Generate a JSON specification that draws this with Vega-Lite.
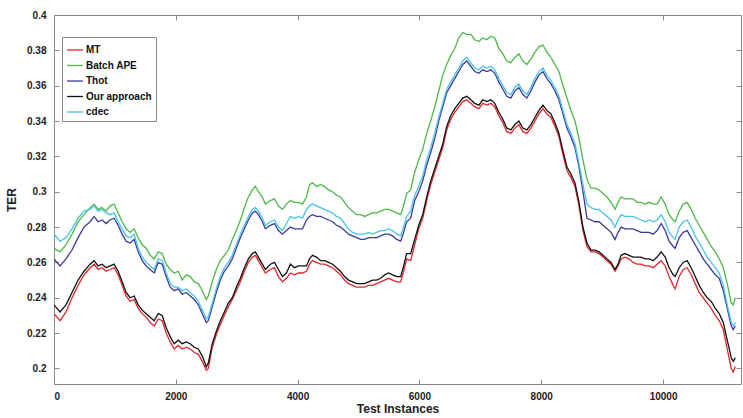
{
  "$schema": "https://vega.github.io/schema/vega-lite/v6.json",
  "width": 687,
  "height": 369,
  "autosize": "none",
  "padding": {"left": 54, "top": 15, "right": 2, "bottom": 34},
  "background": "white",
  "config": {
    "view": {"stroke": "#8a8a8a", "strokeWidth": 1},
    "font": "Liberation Sans",
    "axis": {"labelFont": "Liberation Sans", "titleFont": "Liberation Sans", "labelFontWeight": "bold", "titleFontWeight": "bold", "labelColor": "#222", "titleColor": "#222", "domain": false, "grid": false, "tickColor": "#8a8a8a"}
  },
  "data": {
    "values": [
      {"x": 0, "MT": 0.231, "Batch APE": 0.268, "Thot": 0.262, "Our approach": 0.236, "cdec": 0.276},
      {"x": 99, "MT": 0.227, "Batch APE": 0.266, "Thot": 0.258, "Our approach": 0.232, "cdec": 0.272},
      {"x": 197, "MT": 0.232, "Batch APE": 0.270, "Thot": 0.262, "Our approach": 0.236, "cdec": 0.274},
      {"x": 296, "MT": 0.240, "Batch APE": 0.276, "Thot": 0.267, "Our approach": 0.243, "cdec": 0.279},
      {"x": 395, "MT": 0.247, "Batch APE": 0.283, "Thot": 0.274, "Our approach": 0.250, "cdec": 0.285},
      {"x": 493, "MT": 0.253, "Batch APE": 0.287, "Thot": 0.280, "Our approach": 0.255, "cdec": 0.289},
      {"x": 592, "MT": 0.257, "Batch APE": 0.291, "Thot": 0.283, "Our approach": 0.259, "cdec": 0.290},
      {"x": 658, "MT": 0.259, "Batch APE": 0.293, "Thot": 0.286, "Our approach": 0.261, "cdec": 0.292},
      {"x": 724, "MT": 0.256, "Batch APE": 0.290, "Thot": 0.283, "Our approach": 0.258, "cdec": 0.289},
      {"x": 790, "MT": 0.257, "Batch APE": 0.291, "Thot": 0.284, "Our approach": 0.259, "cdec": 0.290},
      {"x": 855, "MT": 0.255, "Batch APE": 0.289, "Thot": 0.282, "Our approach": 0.257, "cdec": 0.288},
      {"x": 921, "MT": 0.256, "Batch APE": 0.292, "Thot": 0.284, "Our approach": 0.258, "cdec": 0.287},
      {"x": 987, "MT": 0.257, "Batch APE": 0.293, "Thot": 0.285, "Our approach": 0.259, "cdec": 0.288},
      {"x": 1053, "MT": 0.253, "Batch APE": 0.288, "Thot": 0.281, "Our approach": 0.255, "cdec": 0.283},
      {"x": 1119, "MT": 0.247, "Batch APE": 0.283, "Thot": 0.276, "Our approach": 0.249, "cdec": 0.279},
      {"x": 1184, "MT": 0.241, "Batch APE": 0.279, "Thot": 0.272, "Our approach": 0.243, "cdec": 0.275},
      {"x": 1250, "MT": 0.238, "Batch APE": 0.277, "Thot": 0.271, "Our approach": 0.240, "cdec": 0.274},
      {"x": 1316, "MT": 0.239, "Batch APE": 0.279, "Thot": 0.273, "Our approach": 0.241, "cdec": 0.276},
      {"x": 1382, "MT": 0.234, "Batch APE": 0.274, "Thot": 0.266, "Our approach": 0.236, "cdec": 0.268},
      {"x": 1448, "MT": 0.231, "Batch APE": 0.270, "Thot": 0.261, "Our approach": 0.233, "cdec": 0.263},
      {"x": 1513, "MT": 0.229, "Batch APE": 0.268, "Thot": 0.258, "Our approach": 0.231, "cdec": 0.260},
      {"x": 1579, "MT": 0.226, "Batch APE": 0.264, "Thot": 0.256, "Our approach": 0.229, "cdec": 0.258},
      {"x": 1645, "MT": 0.224, "Batch APE": 0.262, "Thot": 0.254, "Our approach": 0.227, "cdec": 0.256},
      {"x": 1711, "MT": 0.228, "Batch APE": 0.266, "Thot": 0.260, "Our approach": 0.231, "cdec": 0.262},
      {"x": 1777, "MT": 0.227, "Batch APE": 0.265, "Thot": 0.259, "Our approach": 0.230, "cdec": 0.261},
      {"x": 1842, "MT": 0.220, "Batch APE": 0.259, "Thot": 0.252, "Our approach": 0.223, "cdec": 0.254},
      {"x": 1908, "MT": 0.215, "Batch APE": 0.256, "Thot": 0.246, "Our approach": 0.218, "cdec": 0.248},
      {"x": 1974, "MT": 0.211, "Batch APE": 0.254, "Thot": 0.244, "Our approach": 0.214, "cdec": 0.246},
      {"x": 2040, "MT": 0.213, "Batch APE": 0.255, "Thot": 0.245, "Our approach": 0.216, "cdec": 0.246},
      {"x": 2105, "MT": 0.211, "Batch APE": 0.250, "Thot": 0.242, "Our approach": 0.214, "cdec": 0.244},
      {"x": 2171, "MT": 0.212, "Batch APE": 0.253, "Thot": 0.243, "Our approach": 0.215, "cdec": 0.245},
      {"x": 2237, "MT": 0.211, "Batch APE": 0.252, "Thot": 0.241, "Our approach": 0.214, "cdec": 0.243},
      {"x": 2303, "MT": 0.209, "Batch APE": 0.249, "Thot": 0.239, "Our approach": 0.212, "cdec": 0.241},
      {"x": 2369, "MT": 0.208, "Batch APE": 0.248, "Thot": 0.236, "Our approach": 0.211, "cdec": 0.238},
      {"x": 2435, "MT": 0.204, "Batch APE": 0.244, "Thot": 0.231, "Our approach": 0.207, "cdec": 0.233},
      {"x": 2500, "MT": 0.199, "Batch APE": 0.239, "Thot": 0.226, "Our approach": 0.201, "cdec": 0.228},
      {"x": 2533, "MT": 0.200, "Batch APE": 0.241, "Thot": 0.227, "Our approach": 0.203, "cdec": 0.229},
      {"x": 2599, "MT": 0.212, "Batch APE": 0.249, "Thot": 0.235, "Our approach": 0.214, "cdec": 0.237},
      {"x": 2665, "MT": 0.219, "Batch APE": 0.256, "Thot": 0.243, "Our approach": 0.221, "cdec": 0.245},
      {"x": 2731, "MT": 0.225, "Batch APE": 0.261, "Thot": 0.250, "Our approach": 0.227, "cdec": 0.252},
      {"x": 2797, "MT": 0.230, "Batch APE": 0.264, "Thot": 0.255, "Our approach": 0.232, "cdec": 0.257},
      {"x": 2862, "MT": 0.235, "Batch APE": 0.267, "Thot": 0.258, "Our approach": 0.237, "cdec": 0.260},
      {"x": 2928, "MT": 0.239, "Batch APE": 0.273, "Thot": 0.262, "Our approach": 0.240, "cdec": 0.264},
      {"x": 2994, "MT": 0.244, "Batch APE": 0.278, "Thot": 0.268, "Our approach": 0.246, "cdec": 0.270},
      {"x": 3060, "MT": 0.249, "Batch APE": 0.284, "Thot": 0.274, "Our approach": 0.251, "cdec": 0.276},
      {"x": 3126, "MT": 0.255, "Batch APE": 0.291, "Thot": 0.279, "Our approach": 0.257, "cdec": 0.281},
      {"x": 3191, "MT": 0.260, "Batch APE": 0.297, "Thot": 0.284, "Our approach": 0.262, "cdec": 0.286},
      {"x": 3257, "MT": 0.263, "Batch APE": 0.301, "Thot": 0.288, "Our approach": 0.265, "cdec": 0.290},
      {"x": 3306, "MT": 0.264, "Batch APE": 0.303, "Thot": 0.289, "Our approach": 0.266, "cdec": 0.291},
      {"x": 3356, "MT": 0.261, "Batch APE": 0.300, "Thot": 0.287, "Our approach": 0.263, "cdec": 0.289},
      {"x": 3421, "MT": 0.257, "Batch APE": 0.297, "Thot": 0.283, "Our approach": 0.259, "cdec": 0.285},
      {"x": 3471, "MT": 0.254, "Batch APE": 0.293, "Thot": 0.279, "Our approach": 0.256, "cdec": 0.281},
      {"x": 3553, "MT": 0.256, "Batch APE": 0.295, "Thot": 0.281, "Our approach": 0.259, "cdec": 0.283},
      {"x": 3619, "MT": 0.257, "Batch APE": 0.296, "Thot": 0.282, "Our approach": 0.260, "cdec": 0.284},
      {"x": 3685, "MT": 0.252, "Batch APE": 0.292, "Thot": 0.278, "Our approach": 0.256, "cdec": 0.280},
      {"x": 3751, "MT": 0.249, "Batch APE": 0.290, "Thot": 0.276, "Our approach": 0.252, "cdec": 0.278},
      {"x": 3816, "MT": 0.251, "Batch APE": 0.293, "Thot": 0.278, "Our approach": 0.254, "cdec": 0.282},
      {"x": 3882, "MT": 0.254, "Batch APE": 0.295, "Thot": 0.280, "Our approach": 0.259, "cdec": 0.286},
      {"x": 3948, "MT": 0.253, "Batch APE": 0.294, "Thot": 0.279, "Our approach": 0.257, "cdec": 0.285},
      {"x": 4014, "MT": 0.254, "Batch APE": 0.294, "Thot": 0.279, "Our approach": 0.258, "cdec": 0.286},
      {"x": 4080, "MT": 0.254, "Batch APE": 0.293, "Thot": 0.279, "Our approach": 0.258, "cdec": 0.285},
      {"x": 4145, "MT": 0.255, "Batch APE": 0.297, "Thot": 0.284, "Our approach": 0.258, "cdec": 0.290},
      {"x": 4195, "MT": 0.259, "Batch APE": 0.304, "Thot": 0.286, "Our approach": 0.262, "cdec": 0.292},
      {"x": 4244, "MT": 0.261, "Batch APE": 0.305, "Thot": 0.287, "Our approach": 0.264, "cdec": 0.293},
      {"x": 4310, "MT": 0.260, "Batch APE": 0.303, "Thot": 0.286, "Our approach": 0.263, "cdec": 0.292},
      {"x": 4376, "MT": 0.259, "Batch APE": 0.304, "Thot": 0.286, "Our approach": 0.261, "cdec": 0.291},
      {"x": 4442, "MT": 0.259, "Batch APE": 0.303, "Thot": 0.285, "Our approach": 0.261, "cdec": 0.290},
      {"x": 4507, "MT": 0.258, "Batch APE": 0.301, "Thot": 0.284, "Our approach": 0.260, "cdec": 0.289},
      {"x": 4573, "MT": 0.257, "Batch APE": 0.300, "Thot": 0.283, "Our approach": 0.259, "cdec": 0.288},
      {"x": 4639, "MT": 0.255, "Batch APE": 0.298, "Thot": 0.281, "Our approach": 0.257, "cdec": 0.286},
      {"x": 4705, "MT": 0.253, "Batch APE": 0.297, "Thot": 0.280, "Our approach": 0.255, "cdec": 0.285},
      {"x": 4771, "MT": 0.250, "Batch APE": 0.294, "Thot": 0.278, "Our approach": 0.252, "cdec": 0.282},
      {"x": 4836, "MT": 0.248, "Batch APE": 0.291, "Thot": 0.276, "Our approach": 0.250, "cdec": 0.279},
      {"x": 4902, "MT": 0.247, "Batch APE": 0.289, "Thot": 0.275, "Our approach": 0.249, "cdec": 0.277},
      {"x": 4968, "MT": 0.246, "Batch APE": 0.287, "Thot": 0.274, "Our approach": 0.248, "cdec": 0.276},
      {"x": 5034, "MT": 0.246, "Batch APE": 0.287, "Thot": 0.273, "Our approach": 0.248, "cdec": 0.276},
      {"x": 5100, "MT": 0.246, "Batch APE": 0.286, "Thot": 0.273, "Our approach": 0.248, "cdec": 0.276},
      {"x": 5165, "MT": 0.247, "Batch APE": 0.287, "Thot": 0.274, "Our approach": 0.249, "cdec": 0.277},
      {"x": 5231, "MT": 0.247, "Batch APE": 0.288, "Thot": 0.274, "Our approach": 0.250, "cdec": 0.276},
      {"x": 5297, "MT": 0.248, "Batch APE": 0.288, "Thot": 0.274, "Our approach": 0.250, "cdec": 0.277},
      {"x": 5363, "MT": 0.249, "Batch APE": 0.289, "Thot": 0.275, "Our approach": 0.251, "cdec": 0.278},
      {"x": 5429, "MT": 0.250, "Batch APE": 0.290, "Thot": 0.276, "Our approach": 0.253, "cdec": 0.278},
      {"x": 5494, "MT": 0.251, "Batch APE": 0.290, "Thot": 0.276, "Our approach": 0.254, "cdec": 0.279},
      {"x": 5560, "MT": 0.250, "Batch APE": 0.289, "Thot": 0.275, "Our approach": 0.253, "cdec": 0.278},
      {"x": 5626, "MT": 0.249, "Batch APE": 0.288, "Thot": 0.273, "Our approach": 0.252, "cdec": 0.276},
      {"x": 5692, "MT": 0.249, "Batch APE": 0.287, "Thot": 0.272, "Our approach": 0.252, "cdec": 0.275},
      {"x": 5741, "MT": 0.255, "Batch APE": 0.292, "Thot": 0.277, "Our approach": 0.258, "cdec": 0.280},
      {"x": 5790, "MT": 0.262, "Batch APE": 0.299, "Thot": 0.283, "Our approach": 0.265, "cdec": 0.286},
      {"x": 5856, "MT": 0.261, "Batch APE": 0.301, "Thot": 0.285, "Our approach": 0.265, "cdec": 0.289},
      {"x": 5922, "MT": 0.270, "Batch APE": 0.311, "Thot": 0.295, "Our approach": 0.273, "cdec": 0.298},
      {"x": 5988, "MT": 0.279, "Batch APE": 0.318, "Thot": 0.300, "Our approach": 0.281, "cdec": 0.303},
      {"x": 6054, "MT": 0.285, "Batch APE": 0.324, "Thot": 0.306, "Our approach": 0.287, "cdec": 0.309},
      {"x": 6119, "MT": 0.295, "Batch APE": 0.333, "Thot": 0.315, "Our approach": 0.297, "cdec": 0.318},
      {"x": 6185, "MT": 0.304, "Batch APE": 0.340, "Thot": 0.322, "Our approach": 0.306, "cdec": 0.325},
      {"x": 6251, "MT": 0.311, "Batch APE": 0.348, "Thot": 0.330, "Our approach": 0.313, "cdec": 0.333},
      {"x": 6317, "MT": 0.318, "Batch APE": 0.357, "Thot": 0.340, "Our approach": 0.320, "cdec": 0.342},
      {"x": 6383, "MT": 0.325, "Batch APE": 0.366, "Thot": 0.348, "Our approach": 0.327, "cdec": 0.350},
      {"x": 6448, "MT": 0.335, "Batch APE": 0.372, "Thot": 0.356, "Our approach": 0.337, "cdec": 0.358},
      {"x": 6514, "MT": 0.341, "Batch APE": 0.377, "Thot": 0.360, "Our approach": 0.343, "cdec": 0.362},
      {"x": 6580, "MT": 0.345, "Batch APE": 0.381, "Thot": 0.364, "Our approach": 0.347, "cdec": 0.366},
      {"x": 6646, "MT": 0.348, "Batch APE": 0.387, "Thot": 0.368, "Our approach": 0.350, "cdec": 0.370},
      {"x": 6712, "MT": 0.351, "Batch APE": 0.390, "Thot": 0.372, "Our approach": 0.353, "cdec": 0.374},
      {"x": 6777, "MT": 0.352, "Batch APE": 0.389, "Thot": 0.374, "Our approach": 0.354, "cdec": 0.376},
      {"x": 6843, "MT": 0.350, "Batch APE": 0.389, "Thot": 0.371, "Our approach": 0.352, "cdec": 0.373},
      {"x": 6909, "MT": 0.348, "Batch APE": 0.386, "Thot": 0.368, "Our approach": 0.350, "cdec": 0.370},
      {"x": 6975, "MT": 0.347, "Batch APE": 0.385, "Thot": 0.367, "Our approach": 0.349, "cdec": 0.369},
      {"x": 7041, "MT": 0.350, "Batch APE": 0.387, "Thot": 0.369, "Our approach": 0.352, "cdec": 0.371},
      {"x": 7106, "MT": 0.349, "Batch APE": 0.386, "Thot": 0.368, "Our approach": 0.351, "cdec": 0.370},
      {"x": 7172, "MT": 0.350, "Batch APE": 0.388, "Thot": 0.369, "Our approach": 0.352, "cdec": 0.371},
      {"x": 7238, "MT": 0.348, "Batch APE": 0.387, "Thot": 0.367, "Our approach": 0.350, "cdec": 0.369},
      {"x": 7304, "MT": 0.343, "Batch APE": 0.381, "Thot": 0.362, "Our approach": 0.345, "cdec": 0.364},
      {"x": 7370, "MT": 0.339, "Batch APE": 0.378, "Thot": 0.358, "Our approach": 0.341, "cdec": 0.360},
      {"x": 7435, "MT": 0.334, "Batch APE": 0.374, "Thot": 0.354, "Our approach": 0.336, "cdec": 0.356},
      {"x": 7501, "MT": 0.333, "Batch APE": 0.373, "Thot": 0.353, "Our approach": 0.335, "cdec": 0.355},
      {"x": 7567, "MT": 0.336, "Batch APE": 0.376, "Thot": 0.357, "Our approach": 0.338, "cdec": 0.359},
      {"x": 7633, "MT": 0.338, "Batch APE": 0.378, "Thot": 0.359, "Our approach": 0.340, "cdec": 0.361},
      {"x": 7698, "MT": 0.334, "Batch APE": 0.374, "Thot": 0.355, "Our approach": 0.336, "cdec": 0.357},
      {"x": 7764, "MT": 0.333, "Batch APE": 0.372, "Thot": 0.353, "Our approach": 0.335, "cdec": 0.355},
      {"x": 7830, "MT": 0.336, "Batch APE": 0.375, "Thot": 0.357, "Our approach": 0.338, "cdec": 0.359},
      {"x": 7896, "MT": 0.340, "Batch APE": 0.379, "Thot": 0.362, "Our approach": 0.342, "cdec": 0.364},
      {"x": 7962, "MT": 0.344, "Batch APE": 0.382, "Thot": 0.366, "Our approach": 0.346, "cdec": 0.368},
      {"x": 8028, "MT": 0.347, "Batch APE": 0.383, "Thot": 0.368, "Our approach": 0.349, "cdec": 0.370},
      {"x": 8093, "MT": 0.344, "Batch APE": 0.379, "Thot": 0.364, "Our approach": 0.346, "cdec": 0.366},
      {"x": 8159, "MT": 0.342, "Batch APE": 0.376, "Thot": 0.361, "Our approach": 0.344, "cdec": 0.363},
      {"x": 8225, "MT": 0.337, "Batch APE": 0.372, "Thot": 0.357, "Our approach": 0.339, "cdec": 0.359},
      {"x": 8291, "MT": 0.331, "Batch APE": 0.368, "Thot": 0.352, "Our approach": 0.333, "cdec": 0.354},
      {"x": 8357, "MT": 0.321, "Batch APE": 0.360, "Thot": 0.344, "Our approach": 0.323, "cdec": 0.346},
      {"x": 8422, "MT": 0.312, "Batch APE": 0.353, "Thot": 0.336, "Our approach": 0.314, "cdec": 0.338},
      {"x": 8488, "MT": 0.308, "Batch APE": 0.346, "Thot": 0.331, "Our approach": 0.310, "cdec": 0.333},
      {"x": 8554, "MT": 0.303, "Batch APE": 0.340, "Thot": 0.325, "Our approach": 0.305, "cdec": 0.327},
      {"x": 8620, "MT": 0.292, "Batch APE": 0.330, "Thot": 0.314, "Our approach": 0.294, "cdec": 0.316},
      {"x": 8685, "MT": 0.278, "Batch APE": 0.318, "Thot": 0.300, "Our approach": 0.280, "cdec": 0.304},
      {"x": 8751, "MT": 0.269, "Batch APE": 0.307, "Thot": 0.285, "Our approach": 0.271, "cdec": 0.293},
      {"x": 8817, "MT": 0.266, "Batch APE": 0.302, "Thot": 0.284, "Our approach": 0.267, "cdec": 0.291},
      {"x": 8883, "MT": 0.266, "Batch APE": 0.302, "Thot": 0.283, "Our approach": 0.267, "cdec": 0.290},
      {"x": 8949, "MT": 0.265, "Batch APE": 0.301, "Thot": 0.283, "Our approach": 0.266, "cdec": 0.290},
      {"x": 9015, "MT": 0.263, "Batch APE": 0.299, "Thot": 0.281, "Our approach": 0.264, "cdec": 0.288},
      {"x": 9080, "MT": 0.261, "Batch APE": 0.297, "Thot": 0.279, "Our approach": 0.262, "cdec": 0.286},
      {"x": 9146, "MT": 0.259, "Batch APE": 0.294, "Thot": 0.277, "Our approach": 0.260, "cdec": 0.284},
      {"x": 9212, "MT": 0.255, "Batch APE": 0.290, "Thot": 0.273, "Our approach": 0.256, "cdec": 0.280},
      {"x": 9261, "MT": 0.258, "Batch APE": 0.294, "Thot": 0.277, "Our approach": 0.259, "cdec": 0.284},
      {"x": 9311, "MT": 0.262, "Batch APE": 0.297, "Thot": 0.280, "Our approach": 0.264, "cdec": 0.287},
      {"x": 9376, "MT": 0.263, "Batch APE": 0.296, "Thot": 0.279, "Our approach": 0.265, "cdec": 0.286},
      {"x": 9442, "MT": 0.262, "Batch APE": 0.296, "Thot": 0.279, "Our approach": 0.264, "cdec": 0.286},
      {"x": 9508, "MT": 0.260, "Batch APE": 0.296, "Thot": 0.279, "Our approach": 0.263, "cdec": 0.286},
      {"x": 9574, "MT": 0.259, "Batch APE": 0.294, "Thot": 0.278, "Our approach": 0.263, "cdec": 0.285},
      {"x": 9640, "MT": 0.259, "Batch APE": 0.294, "Thot": 0.277, "Our approach": 0.263, "cdec": 0.284},
      {"x": 9705, "MT": 0.258, "Batch APE": 0.293, "Thot": 0.277, "Our approach": 0.262, "cdec": 0.283},
      {"x": 9771, "MT": 0.258, "Batch APE": 0.294, "Thot": 0.277, "Our approach": 0.262, "cdec": 0.284},
      {"x": 9837, "MT": 0.257, "Batch APE": 0.293, "Thot": 0.276, "Our approach": 0.261, "cdec": 0.283},
      {"x": 9903, "MT": 0.259, "Batch APE": 0.293, "Thot": 0.278, "Our approach": 0.263, "cdec": 0.284},
      {"x": 9969, "MT": 0.261, "Batch APE": 0.297, "Thot": 0.282, "Our approach": 0.266, "cdec": 0.287},
      {"x": 10035, "MT": 0.258, "Batch APE": 0.293, "Thot": 0.278, "Our approach": 0.263, "cdec": 0.283},
      {"x": 10100, "MT": 0.252, "Batch APE": 0.287, "Thot": 0.272, "Our approach": 0.257, "cdec": 0.277},
      {"x": 10166, "MT": 0.247, "Batch APE": 0.284, "Thot": 0.269, "Our approach": 0.253, "cdec": 0.274},
      {"x": 10199, "MT": 0.245, "Batch APE": 0.283, "Thot": 0.268, "Our approach": 0.252, "cdec": 0.273},
      {"x": 10265, "MT": 0.252, "Batch APE": 0.289, "Thot": 0.274, "Our approach": 0.257, "cdec": 0.280},
      {"x": 10331, "MT": 0.256, "Batch APE": 0.293, "Thot": 0.277, "Our approach": 0.260, "cdec": 0.283},
      {"x": 10396, "MT": 0.257, "Batch APE": 0.294, "Thot": 0.278, "Our approach": 0.261, "cdec": 0.284},
      {"x": 10462, "MT": 0.253, "Batch APE": 0.290, "Thot": 0.274, "Our approach": 0.257, "cdec": 0.280},
      {"x": 10528, "MT": 0.248, "Batch APE": 0.285, "Thot": 0.270, "Our approach": 0.252, "cdec": 0.275},
      {"x": 10594, "MT": 0.243, "Batch APE": 0.281, "Thot": 0.266, "Our approach": 0.247, "cdec": 0.271},
      {"x": 10660, "MT": 0.240, "Batch APE": 0.277, "Thot": 0.262, "Our approach": 0.243, "cdec": 0.267},
      {"x": 10725, "MT": 0.237, "Batch APE": 0.273, "Thot": 0.259, "Our approach": 0.240, "cdec": 0.263},
      {"x": 10791, "MT": 0.234, "Batch APE": 0.269, "Thot": 0.256, "Our approach": 0.238, "cdec": 0.260},
      {"x": 10857, "MT": 0.230, "Batch APE": 0.266, "Thot": 0.253, "Our approach": 0.234, "cdec": 0.257},
      {"x": 10923, "MT": 0.227, "Batch APE": 0.262, "Thot": 0.251, "Our approach": 0.231, "cdec": 0.254},
      {"x": 10989, "MT": 0.222, "Batch APE": 0.257, "Thot": 0.244, "Our approach": 0.226, "cdec": 0.247},
      {"x": 11054, "MT": 0.211, "Batch APE": 0.248, "Thot": 0.234, "Our approach": 0.216, "cdec": 0.236},
      {"x": 11120, "MT": 0.200, "Batch APE": 0.237, "Thot": 0.224, "Our approach": 0.206, "cdec": 0.226},
      {"x": 11153, "MT": 0.198, "Batch APE": 0.236, "Thot": 0.222, "Our approach": 0.204, "cdec": 0.224},
      {"x": 11186, "MT": 0.201, "Batch APE": 0.240, "Thot": 0.224, "Our approach": 0.206, "cdec": 0.226}
    ]
  },
  "transform": [
    {"fold": ["MT", "Batch APE", "Thot", "Our approach", "cdec"], "as": ["series", "TER"]}
  ],
  "resolve": {"axis": {"x": "independent", "y": "independent"}},
  "layer": [
    {
      "mark": {"type": "line", "strokeWidth": 1.3, "clip": true},
      "encoding": {
        "x": {
          "field": "x", "type": "quantitative",
          "scale": {"domain": [0, 11280], "nice": false, "zero": false},
          "axis": {"title": "Test Instances", "values": [0, 2000, 4000, 6000, 8000, 10000], "format": "d", "labelFontSize": 10, "titleFontSize": 12, "tickSize": -5, "labelPadding": 12, "titlePadding": 2}
        },
        "y": {
          "field": "TER", "type": "quantitative",
          "scale": {"domain": [0.1912, 0.4], "nice": false, "zero": false},
          "axis": {"title": "TER", "values": [0.2, 0.22, 0.24, 0.26, 0.28, 0.3, 0.32, 0.34, 0.36, 0.38, 0.4], "format": "~g", "labelFontSize": 10, "titleFontSize": 12, "tickSize": -5, "labelPadding": 13, "titlePadding": 8}
        },
        "color": {
          "field": "series", "type": "nominal",
          "scale": {"domain": ["MT", "Batch APE", "Thot", "Our approach", "cdec"], "range": ["#e3262b", "#4cb848", "#3b3b9e", "#111111", "#48c2e8"]},
          "legend": {
            "title": null, "orient": "none", "legendX": 8, "legendY": 22,
            "symbolType": "stroke", "symbolSize": 250, "symbolStrokeWidth": 1.3,
            "labelFontSize": 10, "labelFontWeight": "bold", "labelColor": "#111", "labelFont": "Liberation Sans",
            "rowPadding": 1.5, "labelOffset": 2,
            "strokeColor": "#888", "fillColor": "white", "padding": 4, "cornerRadius": 0
          }
        },
        "order": {"field": "x", "type": "quantitative"}
      }
    },
    {
      "mark": {"type": "rule", "opacity": 0},
      "encoding": {
        "x": {
          "field": "x", "type": "quantitative",
          "axis": {"orient": "top", "title": null, "labels": false, "values": [0, 2000, 4000, 6000, 8000, 10000], "tickSize": -5}
        },
        "y": {
          "field": "TER", "type": "quantitative",
          "axis": {"orient": "right", "title": null, "labels": false, "values": [0.2, 0.22, 0.24, 0.26, 0.28, 0.3, 0.32, 0.34, 0.36, 0.38, 0.4], "tickSize": -5}
        }
      }
    }
  ]
}
